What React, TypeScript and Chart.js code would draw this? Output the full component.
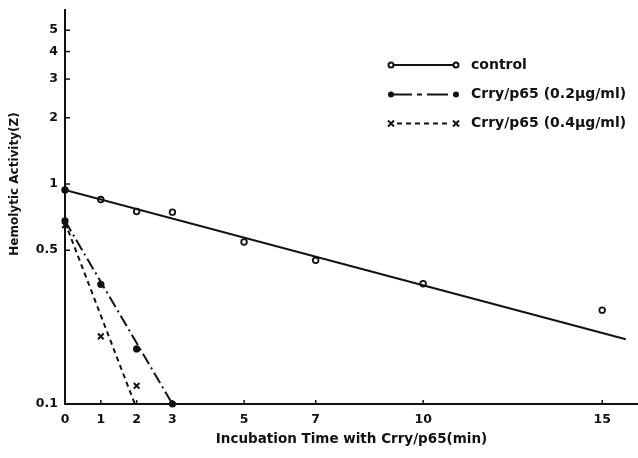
import React, { useEffect, useRef } from "react";
import { Chart, registerables } from "chart.js";

Chart.register(...registerables);

// ---- data ----
const controlTime = [0, 1, 2, 3, 5, 7, 10, 15];
const controlValues = [0.94, 0.85, 0.75, 0.745, 0.545, 0.45, 0.352, 0.267];
const crry02Time = [0, 1, 2, 3];
const crry02Values = [0.68, 0.35, 0.178, 0.1];
const crry04Time = [0, 1, 2];
const crry04Values = [0.65, 0.203, 0.121];

// fitted regression lines (end points)
const controlFitTime = [0, 15.66];
const controlFitValues = [0.94, 0.197];
const crry02FitTime = [0, 3];
const crry02FitValues = [0.68, 0.1];
const crry04FitTime = [0, 1.95];
const crry04FitValues = [0.67, 0.1];

const xTicks = [0, 1, 2, 3, 5, 7, 10, 15];
const yTicks = [0.1, 0.5, 1, 2, 3, 4, 5];

const legendLabels = ["control", "Crry/p65 (0.2μg/ml)", "Crry/p65 (0.4μg/ml)"];
const xTitle = "Incubation Time with Crry/p65(min)";
const yTitle = "Hemolytic Activity(Z)";

const INK = "#111";
const FONT = "'DejaVu Sans', 'Liberation Sans', Arial, sans-serif";

const pts = (xs: number[], ys: number[]) => xs.map((x, i) => ({ x, y: ys[i] }));
const noPadding = () => ({ left: 0, top: 0, right: 0, bottom: 0 });

export default function App() {
  const ref = useRef<HTMLCanvasElement | null>(null);

  useEffect(() => {
    if (!ref.current) return;

    const decorPlugin = {
      id: "decor",
      afterDraw(chart: any) {
        const ctx = chart.ctx;
        const xs = chart.scales.x;
        const ys = chart.scales.y;
        const area = chart.chartArea;
        ctx.save();
        ctx.strokeStyle = INK;
        ctx.lineWidth = 1.5;
        // inside tick marks
        yTicks.forEach((v) => {
          if (v === 0.1) return;
          const py = ys.getPixelForValue(v);
          ctx.beginPath();
          ctx.moveTo(area.left, py);
          ctx.lineTo(area.left + 5, py);
          ctx.stroke();
        });
        xTicks.forEach((v) => {
          if (v === 0) return;
          const px = xs.getPixelForValue(v);
          ctx.beginPath();
          ctx.moveTo(px, area.bottom);
          ctx.lineTo(px, area.bottom - 4);
          ctx.stroke();
        });

        // y title
        ctx.fillStyle = INK;
        ctx.font = `bold 12px ${FONT}`;
        ctx.textAlign = "center";
        ctx.textBaseline = "middle";
        ctx.translate(15, 184);
        ctx.rotate(-Math.PI / 2);
        ctx.fillText(yTitle, 0, 0);
        ctx.restore();

        // legend
        ctx.save();
        ctx.strokeStyle = INK;
        ctx.fillStyle = INK;
        const x0 = 391;
        const x1 = 456;
        const rows = [65, 94.5, 123.5];
        ctx.lineWidth = 2;
        // control
        ctx.setLineDash([]);
        ctx.beginPath();
        ctx.moveTo(x0, rows[0]);
        ctx.lineTo(x1, rows[0]);
        ctx.stroke();
        [x0, x1].forEach((x) => {
          ctx.beginPath();
          ctx.arc(x, rows[0], 2.5, 0, Math.PI * 2);
          ctx.fillStyle = "#fff";
          ctx.fill();
          ctx.stroke();
        });
        // 0.2
        ctx.setLineDash([21, 5, 5, 5]);
        ctx.beginPath();
        ctx.moveTo(x0, rows[1]);
        ctx.lineTo(x1, rows[1]);
        ctx.stroke();
        ctx.setLineDash([]);
        ctx.fillStyle = INK;
        [x0, x1].forEach((x) => {
          ctx.beginPath();
          ctx.arc(x, rows[1], 3, 0, Math.PI * 2);
          ctx.fill();
        });
        // 0.4
        ctx.setLineDash([5, 4]);
        ctx.beginPath();
        ctx.moveTo(x0 + 6, rows[2]);
        ctx.lineTo(x1 - 5, rows[2]);
        ctx.stroke();
        ctx.setLineDash([]);
        [x0, x1].forEach((x) => {
          ctx.beginPath();
          ctx.moveTo(x - 3, rows[2] - 3);
          ctx.lineTo(x + 3, rows[2] + 3);
          ctx.moveTo(x + 3, rows[2] - 3);
          ctx.lineTo(x - 3, rows[2] + 3);
          ctx.stroke();
        });
        ctx.font = `bold 14px ${FONT}`;
        ctx.textAlign = "left";
        ctx.textBaseline = "middle";
        legendLabels.forEach((t, i) => ctx.fillText(t, 471, rows[i]));
        ctx.restore();
      },
    };

    const chart = new Chart(ref.current, {
      type: "scatter",
      data: {
        datasets: [
          {
            type: "line",
            data: pts(controlFitTime, controlFitValues),
            borderColor: INK,
            borderWidth: 2,
            pointRadius: 0,
            fill: false,
          } as any,
          {
            type: "line",
            data: pts(crry02FitTime, crry02FitValues),
            borderColor: INK,
            borderWidth: 2,
            borderDash: [12, 4, 2, 4],
            pointRadius: 0,
            fill: false,
          } as any,
          {
            type: "line",
            data: pts(crry04FitTime, crry04FitValues),
            borderColor: INK,
            borderWidth: 2,
            borderDash: [5, 4],
            pointRadius: 0,
            fill: false,
          } as any,
          {
            data: pts(controlTime, controlValues),
            pointStyle: "circle",
            pointRadius: 2.8,
            pointBorderWidth: 1.8,
            pointBorderColor: INK,
            pointBackgroundColor: controlTime.map((t) => (t === 0 ? INK : "#fff")),
            clip: false,
          } as any,
          {
            data: pts(crry02Time, crry02Values),
            pointStyle: "circle",
            pointRadius: 3.6,
            pointBorderWidth: 0,
            pointBackgroundColor: INK,
            pointBorderColor: INK,
            clip: false,
          } as any,
          {
            data: pts(crry04Time, crry04Values),
            pointStyle: "crossRot",
            pointRadius: 4,
            pointBorderWidth: 2,
            pointBorderColor: INK,
            clip: false,
          } as any,
        ],
      },
      options: {
        responsive: false,
        animation: false,
        events: [],
        layout: { autoPadding: false, padding: { top: 10, right: 0, bottom: 0, left: 0 } },
        plugins: {
          legend: { display: false },
          tooltip: { enabled: false },
          title: { display: false },
        },
        scales: {
          x: {
            type: "linear",
            min: 0,
            max: 16,
            afterBuildTicks: (s: any) => {
              s.ticks = xTicks.map((v) => ({ value: v }));
            },
            afterFit: (s: any) => {
              s.height = 54;
              s.paddingLeft = 0;
              s.paddingRight = 0;
              s.getPadding = noPadding;
            },
            grid: { display: false, drawTicks: false },
            border: { display: true, color: INK, width: 2 },
            ticks: {
              padding: 8,
              color: INK,
              font: { family: FONT, size: 12.5, weight: "bold" },
              maxRotation: 0,
              autoSkip: false,
              callback: (v: any) => String(v),
            },
            title: {
              display: true,
              text: xTitle,
              color: INK,
              font: { family: FONT, size: 13.5, weight: "bold" },
              padding: { top: 0, bottom: 10 },
            },
          },
          y: {
            type: "logarithmic",
            min: 0.1,
            max: 6.18,
            afterBuildTicks: (s: any) => {
              s.ticks = yTicks.map((v) => ({ value: v }));
            },
            afterFit: (s: any) => {
              s.width = 65;
              s.paddingTop = 0;
              s.paddingBottom = 0;
              s.getPadding = noPadding;
            },
            grid: { display: false, drawTicks: false },
            border: { display: true, color: INK, width: 2 },
            ticks: {
              padding: 7,
              color: INK,
              font: { family: FONT, size: 12.5, weight: "bold" },
              autoSkip: false,
              callback: (v: any) => String(v),
            },
          },
        },
      } as any,
      plugins: [decorPlugin],
    });

    return () => chart.destroy();
  }, []);

  return (
    <div style={{ position: "absolute", left: 0, top: 0, width: 638, height: 458, background: "#fff" }}>
      <canvas ref={ref} width={638} height={458} style={{ display: "block" }} />
    </div>
  );
}
